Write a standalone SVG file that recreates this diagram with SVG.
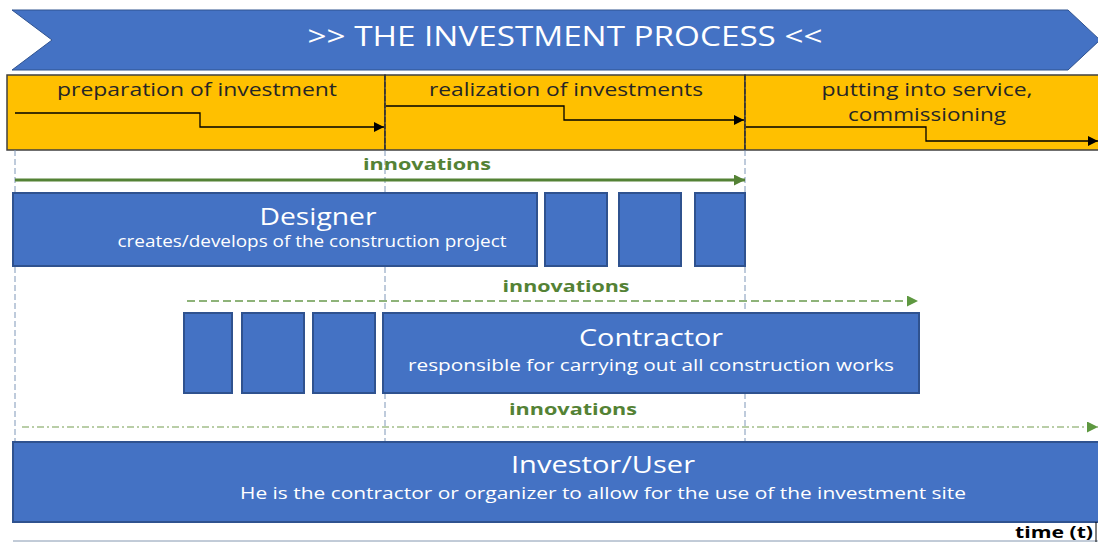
<svg xmlns="http://www.w3.org/2000/svg" width="1098" height="542" viewBox="0 0 1098 542">
<style>
.t{font-family:"Open Sans","Liberation Sans",sans-serif}
.box{fill:#4472C4;stroke:#2F528F;stroke-width:2}
.phase{fill:#FFC000;stroke:#404040;stroke-width:1.5}
.ptxt{font-size:19px;fill:#262626;text-anchor:middle}
.inn{font-size:16px;font-weight:bold;fill:#548235;text-anchor:middle}
.big{font-size:23px;fill:#fff;text-anchor:middle}
.sub{font-size:16px;fill:#fff;text-anchor:middle}
.vguide{stroke:#7F97B8;stroke-width:1;stroke-dasharray:6 3;fill:none}
.step{stroke:#000;stroke-width:1.3;fill:none}
</style>
<defs>
<marker id="ah" viewBox="0 0 10 10" refX="10" refY="5" markerWidth="12" markerHeight="10" markerUnits="userSpaceOnUse" orient="auto"><path d="M0,0 L10,5 L0,10 z" fill="#000"/></marker>
<marker id="ag" viewBox="0 0 10 10" refX="10" refY="5" markerWidth="13" markerHeight="11" markerUnits="userSpaceOnUse" orient="auto"><path d="M0,0 L10,5 L0,10 z" fill="#548235"/></marker>
<marker id="ag2" viewBox="0 0 10 10" refX="10" refY="5" markerWidth="13" markerHeight="11" markerUnits="userSpaceOnUse" orient="auto"><path d="M0,0 L10,5 L0,10 z" fill="#5E9840"/></marker>
</defs>
<rect width="1098" height="542" fill="#fff"/>

<g id="banner">
<polygon points="12,10 1068,10 1100,40 1068,70 12,70 52,40" fill="#4472C4" stroke="#2F528F" stroke-width="1"/>
<text class="t" x="565" y="46" font-size="27" fill="#fff" text-anchor="middle" textLength="515" lengthAdjust="spacingAndGlyphs">&gt;&gt; THE INVESTMENT PROCESS &lt;&lt;</text>
</g>

<g id="phase-preparation">
<rect class="phase" x="7" y="75" width="378" height="75"/>
<text class="t ptxt" x="197" y="96" textLength="280" lengthAdjust="spacingAndGlyphs">preparation of investment</text>
</g>
<g id="phase-realization">
<rect class="phase" x="385" y="75" width="360" height="75"/>
<text class="t ptxt" x="566" y="96" textLength="274" lengthAdjust="spacingAndGlyphs">realization of investments</text>
</g>
<g id="phase-service">
<rect class="phase" x="745" y="75" width="360" height="75"/>
<text class="t ptxt" x="927" y="96" font-size="18" textLength="211" lengthAdjust="spacingAndGlyphs">putting into service,</text>
<text class="t ptxt" x="927" y="121" font-size="18" textLength="158" lengthAdjust="spacingAndGlyphs">commissioning</text>
</g>

<g id="connectors">
<line class="vguide" x1="15" y1="150" x2="15" y2="522"/>
<line x1="385" y1="75" x2="385" y2="150" stroke="#262626" stroke-width="1" stroke-dasharray="5 2"/>
<line x1="745" y1="75" x2="745" y2="150" stroke="#262626" stroke-width="1" stroke-dasharray="5 2"/>
<line class="vguide" x1="385" y1="150" x2="385" y2="441"/>
<line class="vguide" x1="745" y1="150" x2="745" y2="441"/>
<polyline class="step" points="15,113 200,113 200,127 384,127" marker-end="url(#ah)"/>
<polyline class="step" points="386,106 564,106 564,120 744,120" marker-end="url(#ah)"/>
<polyline class="step" points="746,127 926,127 926,141 1098,141" marker-end="url(#ah)"/>
<line x1="15" y1="180" x2="745" y2="180" stroke="#548235" stroke-width="3" marker-end="url(#ag)"/>
<line x1="187" y1="301" x2="918" y2="301" stroke="#6A9A4E" stroke-width="1.3" stroke-dasharray="8 4" marker-end="url(#ag2)"/>
<line x1="22" y1="427" x2="1098" y2="427" stroke="#A3BE8A" stroke-width="1.5" stroke-dasharray="7 3 2 3" marker-end="url(#ag2)"/>
</g>

<g id="innovation-labels">
<text class="t inn" x="427" y="170" textLength="128" lengthAdjust="spacingAndGlyphs">innovations</text>
<text class="t inn" x="566" y="292" textLength="127" lengthAdjust="spacingAndGlyphs">innovations</text>
<text class="t inn" x="573" y="415" textLength="128" lengthAdjust="spacingAndGlyphs">innovations</text>
</g>

<g id="designer">
<rect class="box" x="13" y="193" width="524" height="73"/>
<text class="t big" x="318" y="225" textLength="117" lengthAdjust="spacingAndGlyphs">Designer</text>
<text class="t sub" x="312" y="247" textLength="389" lengthAdjust="spacingAndGlyphs">creates/develops of the construction project</text>
</g>
<g id="designer-steps">
<rect class="box" x="545" y="193" width="62" height="73"/>
<rect class="box" x="619" y="193" width="62" height="73"/>
<rect class="box" x="695" y="193" width="50" height="73"/>
</g>

<g id="contractor-steps">
<rect class="box" x="184" y="313" width="48" height="80"/>
<rect class="box" x="242" y="313" width="62" height="80"/>
<rect class="box" x="313" y="313" width="62" height="80"/>
</g>
<g id="contractor">
<rect class="box" x="383" y="313" width="536" height="80"/>
<text class="t big" x="651" y="346" textLength="144" lengthAdjust="spacingAndGlyphs">Contractor</text>
<text class="t sub" x="651" y="371" textLength="486" lengthAdjust="spacingAndGlyphs">responsible for carrying out all construction works</text>
</g>

<g id="investor">
<rect class="box" x="13" y="442" width="1090" height="80"/>
<text class="t big" x="603" y="473" textLength="184" lengthAdjust="spacingAndGlyphs">Investor/User</text>
<text class="t sub" x="603" y="499" textLength="726" lengthAdjust="spacingAndGlyphs">He is the contractor or organizer to allow for the use of the investment site</text>
</g>

<g id="time-axis">
<line x1="13" y1="541" x2="1098" y2="541" stroke="#8497B0" stroke-width="1"/>
<line x1="1096" y1="522" x2="1096" y2="542" stroke="#000" stroke-width="1"/>
<text class="t" x="1093" y="538" font-size="16" font-weight="bold" fill="#000" text-anchor="end" textLength="78" lengthAdjust="spacingAndGlyphs">time (t)</text>
</g>
</svg>
